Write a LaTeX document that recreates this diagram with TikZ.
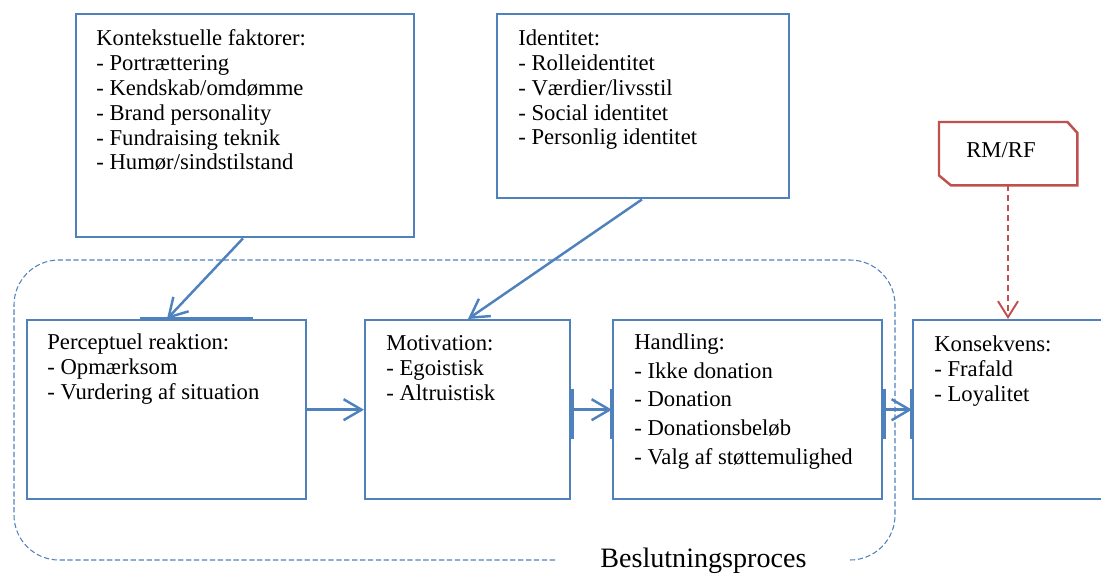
\documentclass[tikz,border=0pt]{standalone}
\usepackage{fontspec}
\setmainfont{Liberation Serif}
\usetikzlibrary{arrows.meta,positioning,calc}
\definecolor{myblue}{RGB}{79,129,189}
\definecolor{myred}{RGB}{192,80,77}
\tikzstyle{box} = [draw=myblue, line width=1.4pt, rectangle, inner sep=0pt, anchor=north west]
\tikzstyle{txt} = [anchor=base west, align=left, inner sep=0pt, font=\fontsize{12.9pt}{14.2pt}\selectfont]
\tikzstyle{flow} = [draw=myblue, line width=1.4pt, -{Straight Barb[length=0.36cm,width=0.42cm]}]
\tikzstyle{site} = [draw=myblue, line width=2.8pt]
\tikzstyle{container} = [draw=myblue, line width=0.6pt, dash pattern=on 3pt off 1.5pt, rounded corners=0.9cm]

\begin{document}
\begin{tikzpicture}[x=0.02cm, y=-0.02cm]
    \clip (0,0) rectangle (1101,574); % page of the reference

    % the decision process frame
    \draw[container] (555,560) -| (14,260) -| (895,560) -- (850,560);
    \node[anchor=base west, inner sep=0pt, font=\fontsize{16pt}{19pt}\selectfont] (proces) at (600,567) {Beslutningsproces};

    % boxes
    \node[box, minimum width=6.76cm, minimum height=4.46cm] (kontekst) at (75,13) {};
    \node[box, minimum width=5.84cm, minimum height=3.68cm] (identitet) at (496,13) {};
    \node[box, minimum width=5.58cm, minimum height=3.58cm] (perception) at (26,319) {};
    \node[box, minimum width=4.10cm, minimum height=3.58cm] (motivation) at (364,319) {};
    \node[box, minimum width=5.38cm, minimum height=3.58cm] (handling) at (612,319) {};
    \node[box, minimum width=4.56cm, minimum height=3.58cm] (konsekvens) at (912,319) {};
    \node[box, draw=none, minimum width=2.72cm, minimum height=1.22cm] (rmrf) at (939,122) {};
    \draw[myred, line width=1.4pt] (rmrf.north west) -- ([xshift=-0.2cm]rmrf.north east)
        -- ([yshift=-0.22cm]rmrf.north east) -- (rmrf.south east)
        -- ([xshift=0.24cm]rmrf.south west) -- ([yshift=0.2cm]rmrf.south west) -- cycle;

    % texts (base = last line)
    \node[txt] (kontekst-txt) at (96,170) {Kontekstuelle faktorer:\\- Portrættering\\- Kendskab/omdømme\\- Brand personality\\- Fundraising teknik\\- Humør/sindstilstand};
    \node[txt] (identitet-txt) at (518,145) {Identitet:\\- Rolleidentitet\\- Værdier/livsstil\\- Social identitet\\- Personlig identitet};
    \node[txt] (perception-txt) at (47,399) {Perceptuel reaktion:\\- Opmærksom\\- Vurdering af situation};
    \node[txt] (motivation-txt) at (386,400) {Motivation:\\- Egoistisk\\- Altruistisk};
    \node[txt, font=\fontsize{12.9pt}{16.3pt}\selectfont] (handling-txt) at (634,464) {Handling:\\- Ikke donation\\- Donation\\- Donationsbeløb\\- Valg af støttemulighed};
    \node[txt] (konsekvens-txt) at (934,401) {Konsekvens:\\- Frafald\\- Loyalitet};
    \node[txt] (rmrf-txt) at (966,158) {RM/RF};

    % connection sites
    \draw[site] ([xshift=2.28cm]perception.north west) -- ([xshift=4.54cm]perception.north west);
    \foreach \b/\s in {motivation/east, handling/west, handling/east, konsekvens/west}
        \draw[site] ([yshift=0.41cm]\b.\s) -- ([yshift=-0.59cm]\b.\s);

    % connectors
    \draw[flow] ([xshift=3.36cm]kontekst.south west) -- ([xshift=2.82cm]perception.north west);
    \draw[flow] ([xshift=2.92cm]identitet.south west) -- ([xshift=2.08cm]motivation.north west);
    \draw[flow] (perception.east) -- (motivation.west);
    \draw[flow] (motivation.east) -- (handling.west);
    \draw[flow] (handling.east) -- (konsekvens.west);
    \draw[myred, line width=1.1pt, dash pattern=on 0.12cm off 0.08cm, -{Straight Barb[length=0.32cm,width=0.4cm]}]
        ([xshift=1.38cm]rmrf.south west) -- ([xshift=1.38cm]rmrf.south west |- konsekvens.north);
\end{tikzpicture}
\end{document}
